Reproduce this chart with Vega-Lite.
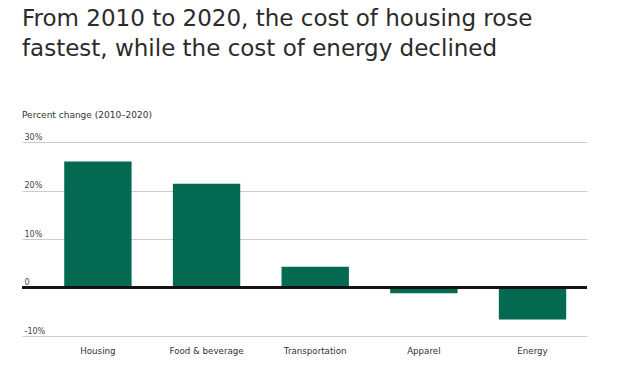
{
  "$schema": "https://vega.github.io/schema/vega-lite/v6.json",
  "width": 565,
  "height": 194,
  "autosize": {"type": "none"},
  "padding": {"left": 22, "top": 142, "right": 37, "bottom": 38},
  "background": "white",
  "title": {
    "text": ["From 2010 to 2020, the cost of housing rose", "fastest, while the cost of energy declined"],
    "subtitle": "Percent change (2010–2020)",
    "anchor": "start",
    "frame": "group",
    "font": "DejaVu Sans",
    "fontSize": 23,
    "fontWeight": "normal",
    "color": "#2b2b2b",
    "lineHeight": 30,
    "offset": 13,
    "subtitleFont": "DejaVu Sans",
    "subtitleFontSize": 9,
    "subtitleColor": "#333333",
    "subtitlePadding": 50
  },
  "data": {
    "values": [
      {"category": "Housing", "change": 26.0},
      {"category": "Food & beverage", "change": 21.4},
      {"category": "Transportation", "change": 4.3},
      {"category": "Apparel", "change": -1.2},
      {"category": "Energy", "change": -6.6}
    ]
  },
  "config": {
    "view": {"stroke": null},
    "font": "DejaVu Sans"
  },
  "layer": [
    {
      "mark": {"type": "bar", "color": "#036950"},
      "encoding": {
        "x": {
          "field": "category",
          "type": "nominal",
          "sort": null,
          "scale": {"paddingInner": 0.38, "paddingOuter": 0.29, "align": 0.67},
          "axis": {
            "title": null,
            "ticks": false,
            "domain": false,
            "labelAngle": 0,
            "labelFontSize": 8.7,
            "labelColor": "#333333",
            "labelPadding": 10
          }
        },
        "y": {
          "field": "change",
          "type": "quantitative",
          "scale": {"domain": [-10, 30]},
          "axis": {
            "title": null,
            "values": [-10, 0, 10, 20, 30],
            "labelExpr": "datum.value == 0 ? '0' : datum.value + '%'",
            "ticks": false,
            "domain": false,
            "grid": true,
            "gridColor": "#cccccc",
            "gridWidth": 1,
            "labelAlign": "left",
            "labelBaseline": "alphabetic",
            "labelPadding": -2,
            "labelOffset": -3,
            "labelFontSize": 8,
            "labelColor": "#444444"
          }
        }
      }
    },
    {
      "mark": {"type": "rule", "color": "#111111", "strokeWidth": 2},
      "encoding": {"y": {"datum": 0}}
    }
  ]
}
